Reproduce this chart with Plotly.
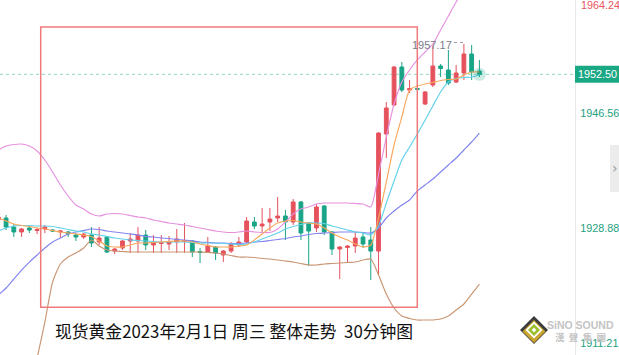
import plotly.graph_objects as go

# ---------------- data ----------------
idx = list(range(63))
opens = [1930.11, 1930.42, 1929.03, 1928.27, 1928.88, 1928.50, 1928.73, 1928.57, 1928.27, 1928.27,
         1927.80, 1927.50, 1927.80, 1926.73, 1927.50, 1925.34, 1925.81, 1926.88, 1926.88, 1927.80,
         1926.27, 1926.50, 1926.42, 1926.73, 1926.80, 1926.88, 1925.27, 1925.19, 1925.96, 1924.73,
         1925.34, 1926.27, 1926.73, 1929.80, 1929.19, 1929.80, 1930.42, 1930.72, 1929.80, 1932.88,
         1929.65, 1928.88, 1932.26, 1928.27, 1925.65, 1925.88, 1926.11, 1927.50, 1927.04, 1925.34,
         1943.33, 1947.79, 1953.63, 1950.09, 1950.32, 1947.94, 1950.86, 1953.78, 1953.17, 1951.32,
         1952.71, 1955.63, 1953.02]
highs = [1930.72, 1930.88, 1929.49, 1928.88, 1929.03, 1928.88, 1929.34, 1928.73, 1928.57, 1928.42,
         1928.11, 1928.11, 1929.03, 1929.03, 1927.65, 1925.81, 1927.04, 1928.11, 1929.03, 1928.57,
         1927.80, 1927.80, 1927.65, 1928.73, 1929.65, 1927.04, 1925.81, 1927.50, 1926.11, 1925.50,
         1926.73, 1927.50, 1930.57, 1930.57, 1931.95, 1931.95, 1933.65, 1931.65, 1933.34, 1933.03,
         1929.80, 1932.57, 1932.42, 1928.42, 1926.11, 1926.27, 1928.27, 1928.27, 1929.03, 1943.60,
         1948.25, 1953.78, 1954.40, 1951.63, 1950.40, 1949.94, 1956.90, 1954.09, 1956.24, 1953.94,
         1957.17, 1957.01, 1954.71]
lows = [1929.96, 1928.57, 1927.50, 1927.50, 1928.11, 1927.96, 1928.11, 1928.27, 1927.34, 1927.50,
        1926.88, 1927.19, 1925.96, 1926.27, 1925.04, 1924.88, 1925.50, 1925.04, 1925.04, 1925.50,
        1925.04, 1925.04, 1925.50, 1925.04, 1925.04, 1924.42, 1923.50, 1925.04, 1923.96, 1923.65,
        1925.04, 1925.96, 1926.57, 1928.73, 1928.27, 1928.42, 1929.80, 1927.04, 1929.34, 1927.04,
        1923.04, 1928.27, 1927.80, 1924.73, 1921.04, 1923.50, 1925.04, 1925.81, 1920.89, 1921.65,
        1939.64, 1947.63, 1949.79, 1949.63, 1950.09, 1947.79, 1950.56, 1952.09, 1950.86, 1951.17,
        1951.63, 1951.63, 1952.09]
closes = [1930.57, 1929.03, 1928.27, 1928.73, 1928.57, 1928.65, 1929.03, 1928.42, 1928.42, 1927.96,
          1927.50, 1927.96, 1926.57, 1927.34, 1925.19, 1925.65, 1926.88, 1927.19, 1927.80, 1926.27,
          1926.73, 1926.65, 1926.73, 1927.19, 1926.96, 1925.19, 1925.11, 1926.11, 1925.04, 1925.34,
          1926.42, 1926.73, 1929.96, 1929.19, 1929.49, 1930.26, 1930.72, 1929.80, 1932.88, 1928.11,
          1928.42, 1932.11, 1928.27, 1925.65, 1925.96, 1926.11, 1927.34, 1926.42, 1925.34, 1943.48,
          1947.33, 1953.63, 1950.09, 1950.32, 1950.20, 1949.79, 1953.78, 1953.40, 1951.17, 1952.71,
          1955.63, 1952.86, 1952.50]

ma_short = [1930.42, 1929.96, 1929.49, 1929.26, 1929.11, 1928.88, 1928.73, 1928.50, 1928.27, 1928.11,
            1927.96, 1927.80, 1927.57, 1926.88, 1926.11, 1925.96, 1925.96, 1926.27, 1926.57, 1926.57,
            1926.65, 1926.73, 1926.80, 1926.88, 1926.88, 1926.73, 1926.42, 1926.19, 1925.96, 1925.96,
            1925.96, 1926.11, 1926.27, 1927.04, 1927.96, 1928.88, 1929.65, 1929.96, 1930.03, 1929.80,
            1929.65, 1929.49, 1928.88, 1928.11, 1927.50, 1927.04, 1926.42, 1925.96, 1926.27, 1930.42,
            1935.95, 1941.64, 1945.94, 1950.09, 1950.71, 1951.02, 1951.25, 1951.56, 1951.71, 1951.79,
            1952.40, 1952.86, 1952.86]
ma_mid = [1928.42, 1928.88, 1929.19, 1929.26, 1929.26, 1929.19, 1929.19, 1929.11, 1928.88, 1928.65,
          1928.42, 1928.27, 1927.96, 1927.80, 1927.57, 1927.34, 1927.19, 1927.04, 1926.96, 1926.88,
          1926.80, 1926.73, 1926.73, 1926.73, 1926.73, 1926.65, 1926.57, 1926.57, 1926.57, 1926.50,
          1926.42, 1926.34, 1926.42, 1926.73, 1927.19, 1927.65, 1928.11, 1928.73, 1929.11, 1929.42,
          1929.65, 1929.65, 1929.57, 1929.19, 1928.88, 1928.57, 1928.27, 1928.11, 1927.80, 1929.19,
          1932.72, 1936.11, 1939.33, 1941.33, 1943.33, 1945.48, 1947.64, 1949.79, 1951.32, 1951.86,
          1952.02, 1952.09, 1952.40]
ma_long = [1918.58, 1919.66, 1921.04, 1922.42, 1923.65, 1924.73, 1925.81, 1926.73, 1927.34, 1927.96,
           1928.27, 1928.50, 1928.73, 1928.65, 1928.42, 1928.27, 1928.11, 1927.96, 1927.80, 1927.57,
           1927.50, 1927.34, 1927.27, 1927.11, 1927.04, 1926.88, 1926.73, 1926.65, 1926.57, 1926.57,
           1926.50, 1926.50, 1926.57, 1926.73, 1926.80, 1926.96, 1927.11, 1927.27, 1927.50, 1927.65,
           1927.88, 1928.03, 1928.11, 1928.19, 1928.27, 1928.27, 1928.27, 1928.19, 1928.11, 1928.88,
           1930.42, 1931.49, 1932.42, 1933.18, 1934.57, 1935.49, 1936.41, 1937.49, 1938.57, 1939.64,
           1940.87, 1942.10, 1943.48]
band_upper = [1940.87, 1941.49, 1941.72, 1941.79, 1941.49, 1940.72, 1939.33, 1937.49, 1935.49, 1933.80,
              1932.42, 1931.80, 1931.03, 1930.72, 1931.03, 1931.11, 1931.03, 1930.80, 1930.57, 1930.42,
              1930.11, 1929.88, 1929.65, 1929.49, 1929.34, 1929.11, 1928.88, 1928.65, 1928.42, 1928.27,
              1928.19, 1928.27, 1928.42, 1928.27, 1928.19, 1928.19, 1928.73, 1929.80, 1931.03, 1931.80,
              1932.11, 1932.57, 1932.72, 1932.72, 1932.72, 1932.72, 1932.65, 1932.57, 1932.11, 1937.18,
              1942.87, 1947.94, 1951.32, 1953.17, 1954.71, 1955.94, 1957.17, 1959.32, 1961.47, 1963.62,
              1965.47, 1967.01, 1968.54]
band_lower = [1891.68, 1894.75, 1897.83, 1900.90, 1903.98, 1908.90, 1914.43, 1920.58, 1923.35, 1924.42,
              1925.04, 1925.81, 1927.04, 1926.11, 1925.50, 1925.34, 1925.27, 1925.19, 1925.19, 1925.19,
              1925.19, 1925.19, 1925.19, 1925.19, 1925.19, 1925.19, 1925.19, 1925.11, 1925.04, 1924.88,
              1924.65, 1924.42, 1924.42, 1924.34, 1924.19, 1924.11, 1923.96, 1923.81, 1923.65, 1923.42,
              1923.19, 1923.19, 1923.35, 1923.42, 1923.50, 1923.58, 1923.65, 1923.96, 1924.11, 1921.65,
              1918.73, 1916.58, 1915.35, 1914.97, 1914.74, 1914.74, 1914.74, 1914.89, 1915.35, 1916.27,
              1917.20, 1918.73, 1920.27]

axis_ticks = [1946.56, 1928.88, 1911.21]
top_label = "1964.24"
last_price = 1952.50
high_label = "1957.17"
high_index = 60
title_text = "现货黄金2023年2月1日 周三 整体走势\u00a0\u00a030分钟图"

# ---------------- figure ----------------
W, H = 619, 355
PW = 575  # plot width in px
RED = "#e5525d"
GREEN = "#19a487"
y_lo, y_hi = 1909.36, 1963.93

fig = go.Figure()
fig.add_trace(go.Candlestick(
    x=idx, open=opens, high=highs, low=lows, close=closes,
    increasing=dict(line=dict(color=RED, width=1), fillcolor=RED),
    decreasing=dict(line=dict(color=GREEN, width=1), fillcolor=GREEN),
    whiskerwidth=0, hoverinfo="skip", showlegend=False,
))

lines = [
    (band_upper, "#e690df"),
    (band_lower, "#c99572"),
    (ma_long, "#8383f0"),
    (ma_mid, "#62d1ea"),
    (ma_short, "#f9a75c"),
]
for vals, col in lines:
    fig.add_trace(go.Scatter(x=idx, y=vals, mode="lines",
                             line=dict(color=col, width=1.15, shape="spline", smoothing=0.6),
                             hoverinfo="skip", showlegend=False))

# glow on the last candle
fig.add_trace(go.Scatter(x=[idx[-1]], y=[last_price], mode="markers",
                         marker=dict(size=13, color="rgba(25,164,135,0.22)"),
                         hoverinfo="skip", showlegend=False))

def px_x(p):
    return p / PW

def px_y(p):
    return 1 - p / H

shapes = []
shapes.append(dict(type="line", xref="paper", yref="y", x0=0, x1=1, y0=last_price, y1=last_price,
                   line=dict(color="#a6ddd0", width=1.2, dash="dot"), layer="below"))
shapes.append(dict(type="rect", xref="paper", yref="paper",
                   x0=px_x(40.7), x1=px_x(417.3), y0=px_y(307.3), y1=px_y(27),
                   line=dict(color="#f07a7a", width=1.5)))
yc = (last_price - y_lo) / (y_hi - y_lo)
shapes.append(dict(type="rect", xref="paper", yref="paper",
                   x0=1.0, x1=620 / PW, y0=yc - 8.5 / H, y1=yc + 8.5 / H,
                   fillcolor="#1aa784", line=dict(width=0)))
shapes.append(dict(type="line", xref="paper", yref="paper",
                   x0=px_x(454), x1=px_x(464), y0=px_y(42.5), y1=px_y(42.5),
                   line=dict(color="#9a9aa8", width=1, dash="dot")))
shapes.append(dict(type="rect", xref="paper", yref="paper",
                   x0=px_x(610), x1=px_x(620), y0=px_y(192), y1=px_y(145),
                   fillcolor="#ececec", line=dict(width=0)))

def diamond(cx, cy, r, fill):
    return dict(type="path", xref="paper", yref="paper",
                path=(f"M {px_x(cx - r)},{px_y(cy)} L {px_x(cx)},{px_y(cy - r)} "
                      f"L {px_x(cx + r)},{px_y(cy)} L {px_x(cx)},{px_y(cy + r)} Z"),
                fillcolor=fill, line=dict(width=0))

shapes += [diamond(534, 330, 14, "#3c3c3c"),
           diamond(534, 331.5, 11.5, "#c9a530"),
           diamond(534, 330, 8.5, "#ffffff"),
           diamond(534, 330, 6, "#9bbd2a"),
           diamond(534, 330, 2.4, "#ffffff")]

LABEL_SIZE = 10.8
annotations = [
    dict(xref="paper", yref="paper", x=1, y=px_y(5), xanchor="left", yanchor="middle", xshift=4,
         text=top_label, showarrow=False, font=dict(color="#e8545e", size=LABEL_SIZE, family="Liberation Sans")),
    dict(xref="paper", yref="paper", x=1, y=yc, xanchor="left", yanchor="middle", xshift=1,
         text=f"{last_price:.2f}", showarrow=False, font=dict(color="#ffffff", size=LABEL_SIZE, family="Liberation Sans")),
    dict(xref="x", yref="y", x=high_index, y=1957.0, xanchor="right", yanchor="middle", xshift=-10,
         text=high_label, showarrow=False, font=dict(color="#7c7c8c", size=11, family="Liberation Sans")),
    dict(xref="paper", yref="paper", x=px_x(53), y=px_y(331), xanchor="left", yanchor="middle",
         text=title_text, showarrow=False, font=dict(color="#111111", size=16.8, family="Noto Sans CJK SC")),
    dict(xref="paper", yref="paper", x=px_x(615), y=px_y(168), xanchor="center", yanchor="middle",
         text="›", showarrow=False, font=dict(color="#999999", size=14, family="DejaVu Sans")),
    dict(xref="paper", yref="paper", x=px_x(580), y=px_y(325), xanchor="center", yanchor="middle",
         text="<b>SiNO SOUND</b>", showarrow=False, font=dict(color="#c4c4c4", size=10.5, family="Liberation Sans")),
    dict(xref="paper", yref="paper", x=px_x(580), y=px_y(337), xanchor="center", yanchor="middle",
         text="<b>漢\u00a0\u00a0聲\u00a0\u00a0集\u00a0\u00a0團</b>", showarrow=False,
         font=dict(color="#c4c4c4", size=9.5, family="Noto Sans CJK TC")),
]

fig.update_layout(
    width=W, height=H,
    margin=dict(l=0, r=W - PW, t=0, b=0, autoexpand=False),
    paper_bgcolor="white", plot_bgcolor="white",
    showlegend=False,
    shapes=shapes, annotations=annotations,
    xaxis=dict(range=[0.219, 0.219 + PW / 7.76], visible=False, rangeslider=dict(visible=False),
               showgrid=False, zeroline=False, automargin=False),
    yaxis=dict(range=[y_lo, y_hi], side="right", showgrid=False, zeroline=False, automargin=False,
               tickvals=axis_ticks, ticktext=[f"{v:.2f}" for v in axis_ticks],
               tickfont=dict(color="#1d9f80", size=LABEL_SIZE, family="Liberation Sans"),
               showline=True, linecolor="#e8e8e8", linewidth=1, ticks="", ticklabelstandoff=2),
    hovermode=False,
)

fig.write_html("out.html", config={"displayModeBar": False},
               post_script="document.body.style.margin='0';document.body.style.padding='0';")
